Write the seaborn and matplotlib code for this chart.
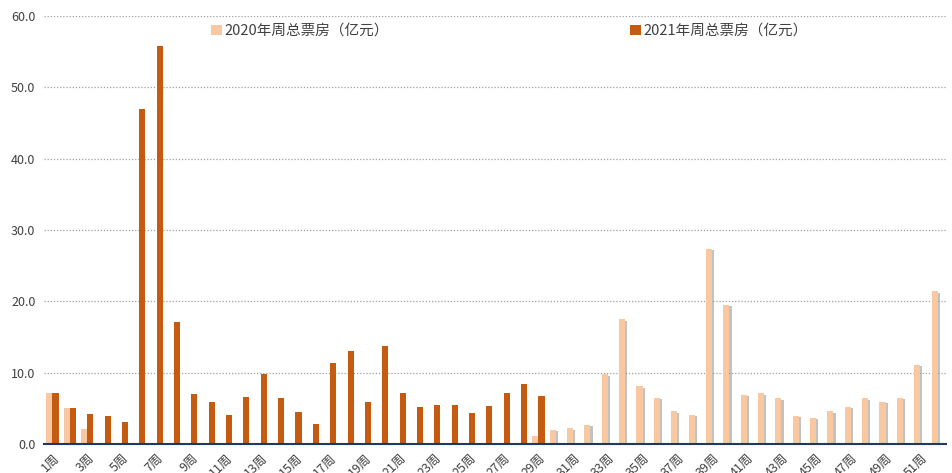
import numpy as np
import pandas as pd
import matplotlib
matplotlib.use("Agg")
import matplotlib.pyplot as plt
import matplotlib.patheffects as pe
from matplotlib.ticker import FixedLocator
import seaborn as sns

# weekly box office, 100 million yuan
weeks = [f"{i}周" for i in range(1, 53)]
box_2020 = [7.2, 5.1, 2.1, 0, 0, 0, 0, 0, 0, 0,
            0, 0, 0, 0, 0, 0, 0, 0, 0, 0,
            0, 0, 0, 0, 0, 0, 0, 0, 1.2, 2.0,
            2.2, 2.7, 9.8, 17.5, 8.1, 6.5, 4.6, 4.1, 27.4, 19.5,
            6.9, 7.1, 6.4, 4.0, 3.7, 4.6, 5.2, 6.4, 5.9, 6.5,
            11.1, 21.4]
box_2021 = [7.2, 5.0, 4.2, 4.0, 3.1, 47.0, 55.8, 17.1, 7.0, 5.9,
            4.1, 6.6, 9.9, 6.4, 4.5, 2.8, 11.4, 13.1, 5.9, 13.7,
            7.1, 5.2, 5.5, 5.5, 4.3, 5.4, 7.1, 8.5, 6.8] + [0] * 23
series_names = ["2020年周总票房（亿元）", "2021年周总票房（亿元）"]
colors = ["#F8C8A3", "#C55A11"]

df = pd.DataFrame({
    "week": weeks * 2,
    "value": box_2020 + box_2021,
    "series": [series_names[0]] * 52 + [series_names[1]] * 52,
})

sns.set_style("white")
plt.rcParams["font.family"] = ["Noto Sans CJK SC", "DejaVu Sans"]

fig = plt.figure(figsize=(9.52, 4.73), dpi=100)
ax = fig.add_axes([0.046, 0.061, 0.948, 0.905])

sns.barplot(data=df, x="week", y="value", hue="series", order=weeks,
            hue_order=series_names, palette=colors, width=0.7,
            errorbar=None, saturation=1, linewidth=0, edgecolor="none", ax=ax)

# soft drop shadow on the 2020 bars
for bar in ax.containers[0]:
    bar.set_path_effects([pe.SimplePatchShadow(offset=(1.6, -1), shadow_rgbFace="#909090", alpha=0.55),
                          pe.Normal()])

ax.set_ylim(0, 60)
ax.set_xlim(-0.5, 51.5)
ax.set_yticks(np.arange(0, 61, 10))
ax.set_yticklabels([f"{v:.1f}" for v in np.arange(0, 61, 10)], fontsize=9, color="#404040")
ax.yaxis.grid(True, linestyle=(0, (1, 1.5)), color="#A0A0A0", linewidth=0.9)
ax.set_axisbelow(True)
ax.tick_params(axis="y", length=0, pad=6)

ax.set_xticks(range(52))
ax.set_xticklabels([w if i % 2 == 0 else "" for i, w in enumerate(weeks)],
                   rotation=45, ha="right", va="top", rotation_mode="anchor",
                   fontsize=9, color="#404040")
ax.tick_params(axis="x", which="major", length=0, pad=5)
ax.xaxis.set_minor_locator(FixedLocator(np.arange(-0.5, 52, 1)))
ax.tick_params(axis="x", which="minor", direction="in", length=4, width=1.3, color="#1F3864")

for s in ["top", "right", "left"]:
    ax.spines[s].set_visible(False)
ax.spines["bottom"].set_color("#1F3864")
ax.spines["bottom"].set_linewidth(1.5)

ax.set_xlabel("")
ax.set_ylabel("")
ax.legend(loc="upper center", bbox_to_anchor=(0.516, 1.012), ncol=2, frameon=False,
          fontsize=10.5, columnspacing=16.5, handlelength=0.75, handleheight=0.75,
          handletextpad=0.2, labelcolor="#404040")

fig.savefig("out.png", dpi=100)
